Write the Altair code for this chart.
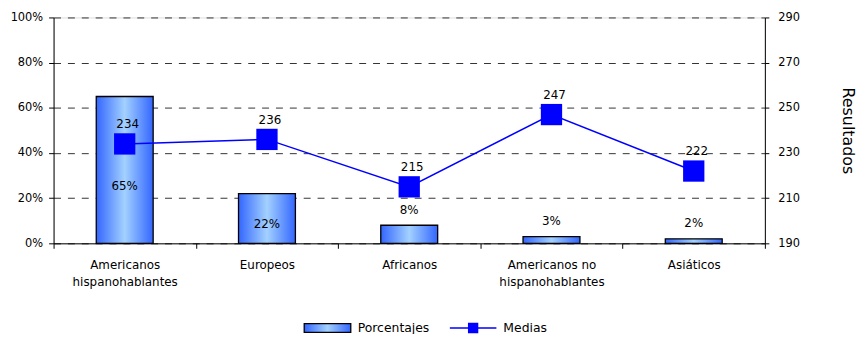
import altair as alt
import pandas as pd

categorias = ["Americanos|hispanohablantes", "Europeos", "Africanos",
              "Americanos no|hispanohablantes", "Asiáticos"]
porcentajes = [0.65, 0.22, 0.08, 0.03, 0.02]
medias = [234, 236, 215, 247, 222]
ticks_pct = [0, 0.2, 0.4, 0.6, 0.8, 1.0]
ticks_res = [190, 210, 230, 250, 270, 290]

df = pd.DataFrame({
    "cat": categorias,
    "pct": porcentajes,
    "media": medias,
    "s_bar": ["Porcentajes"] * len(categorias),
    "s_line": ["Medias"] * len(categorias),
})

FONT = "DejaVu Sans"
W, H = 718, 228

xaxis = alt.Axis(title=None, labelAngle=0, labelExpr="split(datum.label, '|')",
                 tickBand="extent", tickSize=5, labelPadding=11, labelLineHeight=18,
                 labelFontSize=12, labelFont=FONT, labelColor="black",
                 domainColor="black", tickColor="black", grid=False)
xscale = alt.Scale(paddingInner=0, paddingOuter=0)

grad = alt.Gradient(
    gradient="linear", x1=0, x2=1, y1=0, y2=0,
    stops=[alt.GradientStop(color="#3366FF", offset=0),
           alt.GradientStop(color="#A3D1FF", offset=0.5),
           alt.GradientStop(color="#3366FF", offset=1)],
)

yl = alt.Scale(domain=[0, 1])
yr = alt.Scale(domain=[190, 290])

laxis = alt.Axis(title=None, format="%", values=ticks_pct, grid=True,
                 gridDash=[7, 7], gridColor="#333333", gridWidth=1,
                 tickSize=5, labelPadding=6, labelFontSize=11.5, labelFont=FONT,
                 labelColor="black", domainColor="black", tickColor="black")
raxis = alt.Axis(title="Resultados", orient="right", values=ticks_res, grid=False,
                 tickSize=4, labelPadding=9, labelFontSize=11.5, labelFont=FONT,
                 labelColor="black", domainColor="black", tickColor="black",
                 titleAngle=90, titleFontSize=16, titleFont=FONT, titleFontWeight="normal",
                 titleColor="black", titlePadding=40)

bars = alt.Chart(df).mark_bar(fill=grad, strokeWidth=1.3, width=alt.RelativeBandSize(0.4)).encode(
    x=alt.X("cat:N", sort=categorias, scale=xscale, axis=xaxis),
    y=alt.Y("pct:Q", scale=yl, axis=laxis),
    stroke=alt.Stroke("s_bar:N", scale=alt.Scale(range=["black"]),
                      legend=alt.Legend(title=None, orient="none", legendX=252, legendY=289,
                                        symbolType="M-1,-0.19H1V0.19H-1Z", symbolSize=2209,
                                        symbolFillColor="#6F9CFF", symbolStrokeColor="black",
                                        symbolStrokeWidth=1.3, labelOffset=6,
                                        labelFontSize=12.5, labelFont=FONT, labelColor="black")),
)

pct_text = alt.Chart(df).transform_calculate(
    ypos="datum.pct > 0.15 ? datum.pct * 0.39 : datum.pct + 0.069",
    etiqueta="format(datum.pct, '.0%')",
).mark_text(font=FONT, fontSize=12, color="black", baseline="middle").encode(
    x=alt.X("cat:N", sort=categorias, scale=xscale, axis=xaxis),
    y=alt.Y("ypos:Q", scale=yl, axis=laxis),
    text="etiqueta:N",
)

left = alt.layer(bars, pct_text)

line = alt.Chart(df).mark_line(strokeWidth=1.5, point=alt.OverlayMarkDef(shape="square", size=462, filled=True, opacity=1)).encode(
    x=alt.X("cat:N", sort=categorias, scale=xscale, axis=xaxis),
    y=alt.Y("media:Q", scale=yr, axis=raxis),
    color=alt.Color("s_line:N", scale=alt.Scale(range=["#0000FF"]),
                    legend=alt.Legend(title=None, orient="none", legendX=399, legendY=289,
                                      symbolType="M-1,0H1M-0.19,-0.19H0.19V0.19H-0.19Z",
                                      symbolSize=2209, symbolFillColor="#0000FF",
                                      symbolStrokeColor="#0000FF", symbolStrokeWidth=1.5,
                                      labelOffset=6, labelFontSize=12.5, labelFont=FONT,
                                      labelColor="black")),
)

line_text = alt.Chart(df).mark_text(font=FONT, fontSize=12, color="black", dy=-20, dx=3).encode(
    x=alt.X("cat:N", sort=categorias, scale=xscale, axis=xaxis),
    y=alt.Y("media:Q", scale=yr, axis=raxis),
    text="media:Q",
)

right = alt.layer(line, line_text)

chart = alt.layer(left, right).resolve_scale(y="independent").properties(
    width=W, height=H,
    autosize=alt.AutoSizeParams(type="none"),
    padding={"left": 46, "top": 8, "right": 94, "bottom": 90},
).configure_view(strokeWidth=0, stroke="transparent").configure(background="white")

chart.save("out.html", embed_options={"renderer": "svg", "actions": False})
